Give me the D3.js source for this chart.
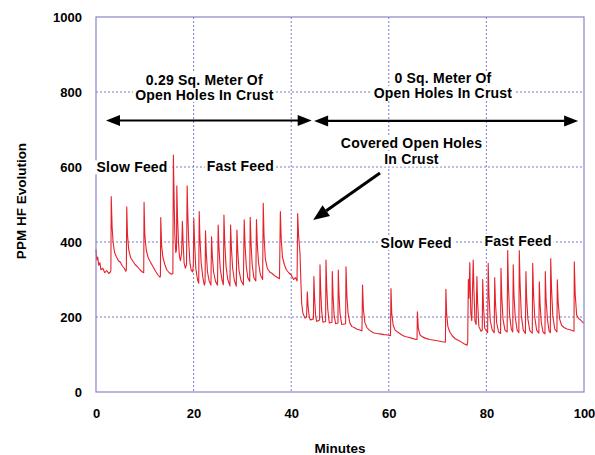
<!DOCTYPE html>
<html>
<head>
<meta charset="utf-8">
<script src="https://cdn.jsdelivr.net/npm/d3@7"></script>
<style>
  body { margin: 0; background: #fff; }
  text { font-family: "Liberation Sans", Arial, sans-serif; font-weight: bold; fill: #000; }
</style>
</head>
<body>
<svg id="chart" width="595" height="455"></svg>
<script>
// [minutes, ppm HF]
const slowFeed1 = [[0,380],[0.15,352],[0.35,360],[0.55,338],[0.8,345],[1.0,326],[1.4,330],[1.8,318],[2.2,324],[2.6,316],[2.95,320],
  [3.05,325],[3.12,521],[3.3,440],[3.5,400],[3.8,372],[4.2,360],[4.6,350],[5.0,346],[5.4,336],[5.8,330],[6.1,322],
  [6.22,326],[6.3,494],[6.45,420],[6.7,380],[7.1,358],[7.5,350],[8.0,340],[8.5,334],[9.0,326],[9.5,320],
  [9.78,318],[9.85,506],[10.0,420],[10.3,378],[10.7,358],[11.2,345],[11.7,334],[12.2,322],[12.7,312],[13.1,306],
  [13.2,310],[13.27,465],[13.45,390],[13.7,360],[14.1,340],[14.5,326],[15.0,318],[15.5,314],[15.75,316]];

const fastFeed1 = [[15.86,632],[16.0,520],[16.15,420],[16.35,372],[16.5,380],
  [16.56,550],[16.7,470],[16.9,400],[17.1,362],[17.3,350],[17.55,372],
  [17.7,455],[17.85,400],[18.05,345],[18.3,330],[18.55,340],
  [18.68,550],[18.8,480],[19.0,400],[19.25,345],[19.5,325],[19.8,320],[19.95,340],
  [20.04,462],[20.2,400],[20.45,330],[20.8,300],[21.05,290],
  [21.15,481],[21.3,410],[21.55,345],[21.9,305],[22.2,285],[22.35,292],
  [22.44,430],[22.6,370],[22.85,320],[23.2,295],[23.55,285],
  [23.68,414],[23.85,360],[24.1,320],[24.5,295],[24.9,285],
  [25.04,445],[25.2,385],[25.45,330],[25.8,300],[26.1,286],
  [26.22,472],[26.38,400],[26.65,335],[27.0,300],[27.45,283],
  [27.58,445],[27.75,385],[28.0,330],[28.35,298],[28.75,282],
  [28.88,432],[29.05,375],[29.3,325],[29.7,298],[30.2,285],
  [30.37,459],[30.55,390],[30.8,335],[31.1,305],[31.5,295],
  [31.6,466],[31.78,395],[32.0,340],[32.35,305],[32.75,296],
  [32.88,460],[33.05,395],[33.3,345],[33.7,312],[34.15,300],
  [34.27,503],[34.42,420],[34.7,355],[35.1,330],[35.6,320],[36.1,316],[36.6,310],[37.1,306],[37.6,302],
  [37.78,481],[37.95,410],[38.2,360],[38.6,340],[39.0,326],[39.5,318],[40.0,312],[40.5,300],[40.9,305],[41.2,296],
  [41.33,476]];

const coveredFast = [[41.5,420],[41.8,370],[42.0,290],[42.15,236],[42.4,210],[42.83,197],[43.15,200],
  [43.3,267],[43.45,230],[43.7,200],[43.95,192],
  [44.55,195],[44.65,308],[44.8,250],[45.0,205],[45.2,188],
  [45.82,192],[45.9,339],[46.05,270],[46.25,215],[46.5,186],
  [47.05,188],[47.13,352],[47.28,280],[47.5,220],[47.8,184],
  [48.35,186],[48.42,321],[48.58,255],[48.8,205],[49.1,182],
  [49.58,184],[49.65,325],[49.8,260],[50.0,210],[50.35,180],
  [51.15,182],[51.23,334],[51.4,260],[51.65,210],[52.0,185],[52.4,175],[52.9,172],[53.4,168],[53.9,166],[54.5,163]];

const slowFeed2 = [[54.62,285],[54.8,220],[55.1,185],[55.5,172],[56.0,165],[56.8,158],[57.5,156],[58.2,155],[59.0,153],[59.8,152],[60.35,150],
  [60.45,276],[60.6,210],[60.9,178],[61.3,165],[62.0,158],[62.7,152],[63.3,148],[64.0,146],[64.8,143],[65.6,140],
  [65.78,140],[65.86,214],[66.05,170],[66.4,152],[66.9,147],[67.6,143],[68.4,140],[69.3,138],[70.2,136],[71.0,134],[71.6,133],
  [71.7,274],[71.85,210],[72.1,175],[72.5,160],[73.0,150],[73.6,142],[74.2,138],[74.9,133],[75.5,128],[76.05,125]];

const fastFeed2 = [[76.17,135],[76.3,300],[76.43,250],[76.6,345],[76.8,210],[77.0,190],[77.3,352],[77.45,270],[77.65,190],[77.9,180],
  [78.05,308],[78.2,240],[78.45,175],[78.9,162],
  [79.15,165],[79.24,300],[79.4,230],[79.65,170],[80.25,158],
  [80.37,343],[80.52,260],[80.8,190],[81.2,165],[81.6,158],
  [81.7,305],[81.85,240],[82.1,185],[82.5,160],[82.9,156],
  [82.99,330],[83.15,255],[83.4,195],[83.8,165],[84.25,160],
  [84.36,377],[84.5,290],[84.75,205],[85.1,168],[85.4,160],
  [85.5,339],[85.65,260],[85.9,200],[86.3,165],[86.65,158],
  [86.74,377],[86.9,290],[87.15,205],[87.55,165],[88.0,156],
  [88.1,321],[88.25,250],[88.5,195],[88.9,163],[89.4,157],
  [89.49,343],[89.65,265],[89.9,200],[90.3,165],[90.75,157],
  [90.84,294],[91.0,235],[91.25,185],[91.6,160],[92.0,155],
  [92.07,321],[92.22,250],[92.5,195],[92.85,162],[93.1,158],
  [93.18,356],[93.35,275],[93.6,205],[94.0,168],[94.45,160],
  [94.53,299],[94.7,240],[95.0,195],[95.4,178],[95.9,172],[96.5,168],[97.1,166],[97.6,164],[97.95,162],
  [98.01,347],[98.2,260],[98.5,205],[98.9,196],[99.3,192],[99.7,186],[100,184]];

const xTicks = [0, 20, 40, 60, 80, 100];
const yTicks = [0, 200, 400, 600, 800, 1000];

// text notes: [minutes, ppm] of centre
const feedLabels = [
  {text: 'Slow Feed', t: 7.4, v: 599},
  {text: 'Fast Feed', t: 29.6, v: 603},
  {text: 'Slow Feed', t: 65.6, v: 397},
  {text: 'Fast Feed', t: 86.5, v: 403}
];
const areaLabels = [
  {lines: ['0.29 Sq. Meter Of', 'Open Holes In Crust'], t: 22.2, v: [832, 792]},
  {lines: ['0 Sq. Meter Of', 'Open Holes In Crust'], t: 71.1, v: [837, 797]},
  {lines: ['Covered Open Holes', 'In Crust'], t: 64.65, v: [664, 620]}
];
const spanArrows = [{from: 2.05, to: 44.2, v: 724}, {from: 44.7, to: 98.8, v: 723}];
const pointer = {t0: 58.2, v0: 584, t1: 44.5, v1: 459};

const margin = {top: 17, right: 11, bottom: 63, left: 96};
const width = 595 - margin.left - margin.right;
const height = 455 - margin.top - margin.bottom;

const svg = d3.select('#chart');
const g = svg.append('g').attr('transform', `translate(${margin.left},${margin.top})`);

const x = d3.scaleLinear().domain([0, 100]).range([0, width]);
const y = d3.scaleLinear().domain([0, 1000]).range([height, 0]);

const gridColor = '#7b7bc8';

// grid
g.selectAll('.vgrid').data(xTicks.slice(1, -1)).join('line')
  .attr('x1', d => x(d)).attr('x2', d => x(d))
  .attr('y1', 0).attr('y2', height)
  .attr('stroke', gridColor).attr('stroke-width', 1).attr('stroke-dasharray', '2,2');
g.selectAll('.hgrid').data(yTicks.slice(1, -1)).join('line')
  .attr('x1', 0).attr('x2', width)
  .attr('y1', d => y(d)).attr('y2', d => y(d))
  .attr('stroke', gridColor).attr('stroke-width', 1).attr('stroke-dasharray', '2,2');

// axes (labels only)
const xAxis = g.append('g').attr('transform', `translate(0,${height})`)
  .call(d3.axisBottom(x).tickValues(xTicks).tickFormat(d3.format('d')).tickSize(0).tickPadding(17));
const yAxis = g.append('g')
  .call(d3.axisLeft(y).tickValues(yTicks).tickFormat(d3.format('d')).tickSize(0).tickPadding(14));
[xAxis, yAxis].forEach(a => {
  a.select('.domain').remove();
  a.selectAll('text').attr('font-size', 13).attr('font-family', '"Liberation Sans", Arial, sans-serif').attr('font-weight', 'bold');
});

// data line
const data = slowFeed1.concat(fastFeed1, coveredFast, slowFeed2, fastFeed2);
const line = d3.line().x(d => x(d[0])).y(d => y(d[1]));
g.append('path')
  .attr('d', line(data))
  .attr('fill', 'none')
  .attr('stroke', '#e4222c')
  .attr('stroke-width', 1.1)
  .attr('stroke-linejoin', 'round');

// frame
g.append('rect')
  .attr('width', width).attr('height', height)
  .attr('fill', 'none').attr('stroke', '#8585cc').attr('stroke-width', 1.2);

// text with white box
function boxedText(parent, str, cx, cy) {
  const grp = parent.append('g');
  const rect = grp.append('rect').attr('fill', '#fff');
  const t = grp.append('text')
    .attr('x', cx).attr('y', cy)
    .attr('text-anchor', 'middle')
    .attr('dy', '0.35em')
    .attr('font-size', 14)
    .attr('letter-spacing', 0.2)
    .text(str);
  const b = t.node().getBBox();
  rect.attr('x', b.x - 2).attr('y', b.y + 1).attr('width', b.width + 4).attr('height', b.height - 2);
}

feedLabels.forEach(d => boxedText(g, d.text, x(d.t), y(d.v)));
areaLabels.forEach(d => d.lines.forEach((s, i) => boxedText(g, s, x(d.t), y(d.v[i]))));

// double-headed span arrows
function head(parent, tipX, tipY, dir, len, half) {
  parent.append('path')
    .attr('d', `M${tipX},${tipY} L${tipX - dir * len},${tipY - half} L${tipX - dir * len},${tipY + half} Z`)
    .attr('fill', '#000');
}
spanArrows.forEach(a => {
  g.append('line')
    .attr('x1', x(a.from) + 10).attr('x2', x(a.to) - 10)
    .attr('y1', y(a.v)).attr('y2', y(a.v))
    .attr('stroke', '#000').attr('stroke-width', 2.2);
  head(g, x(a.from), y(a.v), -1, 14, 5.5);
  head(g, x(a.to), y(a.v), 1, 14, 5.5);
});

// pointer arrow
{
  const x0 = x(pointer.t0), y0 = y(pointer.v0), x1 = x(pointer.t1), y1 = y(pointer.v1);
  const ang = Math.atan2(y1 - y0, x1 - x0);
  const len = 16, half = 6.5;
  const bx = x1 - len * Math.cos(ang), by = y1 - len * Math.sin(ang);
  g.append('line')
    .attr('x1', x0).attr('y1', y0).attr('x2', bx).attr('y2', by)
    .attr('stroke', '#000').attr('stroke-width', 3);
  g.append('path')
    .attr('d', `M${x1},${y1} L${bx + half * Math.sin(ang)},${by - half * Math.cos(ang)} L${bx - half * Math.sin(ang)},${by + half * Math.cos(ang)} Z`)
    .attr('fill', '#000');
}

// axis titles
svg.append('text')
  .attr('transform', `translate(21,201) rotate(-90)`)
  .attr('text-anchor', 'middle')
  .attr('dy', '0.35em')
  .attr('font-size', 13.5)
  .text('PPM HF Evolution');
svg.append('text')
  .attr('x', margin.left + width / 2)
  .attr('y', 448)
  .attr('text-anchor', 'middle')
  .attr('dy', '0.35em')
  .attr('font-size', 13.5)
  .text('Minutes');
</script>
</body>
</html>
